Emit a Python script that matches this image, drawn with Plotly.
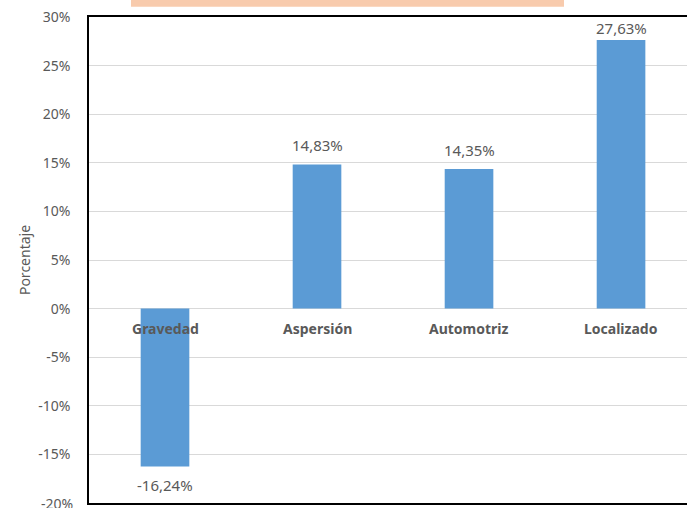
import plotly.graph_objects as go

categories = ["Gravedad", "Aspersión", "Automotriz", "Localizado"]
values = [-0.1624, 0.1483, 0.1435, 0.2763]

tick_values = [-0.20, -0.15, -0.10, -0.05, 0.0, 0.05, 0.10, 0.15, 0.20, 0.25, 0.30]
tick_labels = ["-20%", "-15%", "-10%", "-5%", "0%", "5%", "10%", "15%", "20%", "25%", "30%"]

BLUE = "#5B9BD5"
GREY = "#595959"
FONT = "Noto Sans, Open Sans, sans-serif"
Y_MIN, Y_MAX = -0.2, 0.3

fig = go.Figure(
    go.Bar(
        x=categories,
        y=values,
        width=0.32,
        marker=dict(color=BLUE, line=dict(width=0)),
        hoverinfo="x+y",
    )
)

# value labels above / below each bar, with a decimal comma
for cat, v in zip(categories, values):
    label = f"{v * 100:.2f}%".replace(".", ",")
    if v >= 0:
        # labels near the top are pushed down to stay inside the plot, like Excel does
        shift = 0 if v > Y_MAX - 0.03 else 7
        anchor = "bottom"
    else:
        shift = -7
        anchor = "top"
    fig.add_annotation(
        x=cat, y=v, text=label, showarrow=False,
        yanchor=anchor, yshift=shift,
        font=dict(family=FONT, size=15, color=GREY),
    )

# category labels sit just under the zero line
for cat in categories:
    fig.add_annotation(
        x=cat, y=0, yanchor="top", yshift=-8,
        text=f"<b>{cat}</b>", showarrow=False,
        font=dict(family=FONT, size=14, color=GREY),
    )

# the lowest tick label is half cut off by the picture edge, plotly drops it, so draw it by hand
fig.add_annotation(
    xref="paper", x=0, y=tick_values[0], xanchor="right", xshift=-14,
    text=tick_labels[0], showarrow=False,
    font=dict(family=FONT, size=14, color=GREY),
)

# orange title box, cut off at the top of the picture
fig.add_shape(
    type="rect", xref="paper", yref="paper",
    x0=(131 - 89) / 598, x1=(564 - 89) / 598, y0=1.021, y1=1.1,
    fillcolor="#F8CBAD", line=dict(width=0), layer="above",
)

fig.update_layout(
    width=687,
    height=508,
    margin=dict(l=89, r=0, t=17, b=5),
    paper_bgcolor="white",
    plot_bgcolor="white",
    showlegend=False,
    font=dict(family=FONT, size=14, color=GREY),
    xaxis=dict(
        range=[-0.5, 3.434],
        showticklabels=False,
        showgrid=False,
        showline=True,
        linecolor="black",
        linewidth=1.5,
        mirror=True,
        ticks="",
    ),
    yaxis=dict(
        range=[Y_MIN, Y_MAX],
        tickvals=tick_values[1:],
        ticktext=tick_labels[1:],
        showgrid=True,
        gridcolor="#D9D9D9",
        gridwidth=1,
        zeroline=True,
        zerolinecolor="#D9D9D9",
        zerolinewidth=1,
        showline=True,
        linecolor="black",
        linewidth=1.5,
        ticks="outside",
        ticklen=14,
        tickcolor="rgba(0,0,0,0)",
        tickfont=dict(family=FONT, size=14, color=GREY),
        automargin=False,
        title=dict(text="Porcentaje", font=dict(family=FONT, size=14, color=GREY), standoff=4),
    ),
)

fig.write_html(
    "out.html",
    config={"displayModeBar": False},
    post_script="document.body.style.margin='0';",
)
